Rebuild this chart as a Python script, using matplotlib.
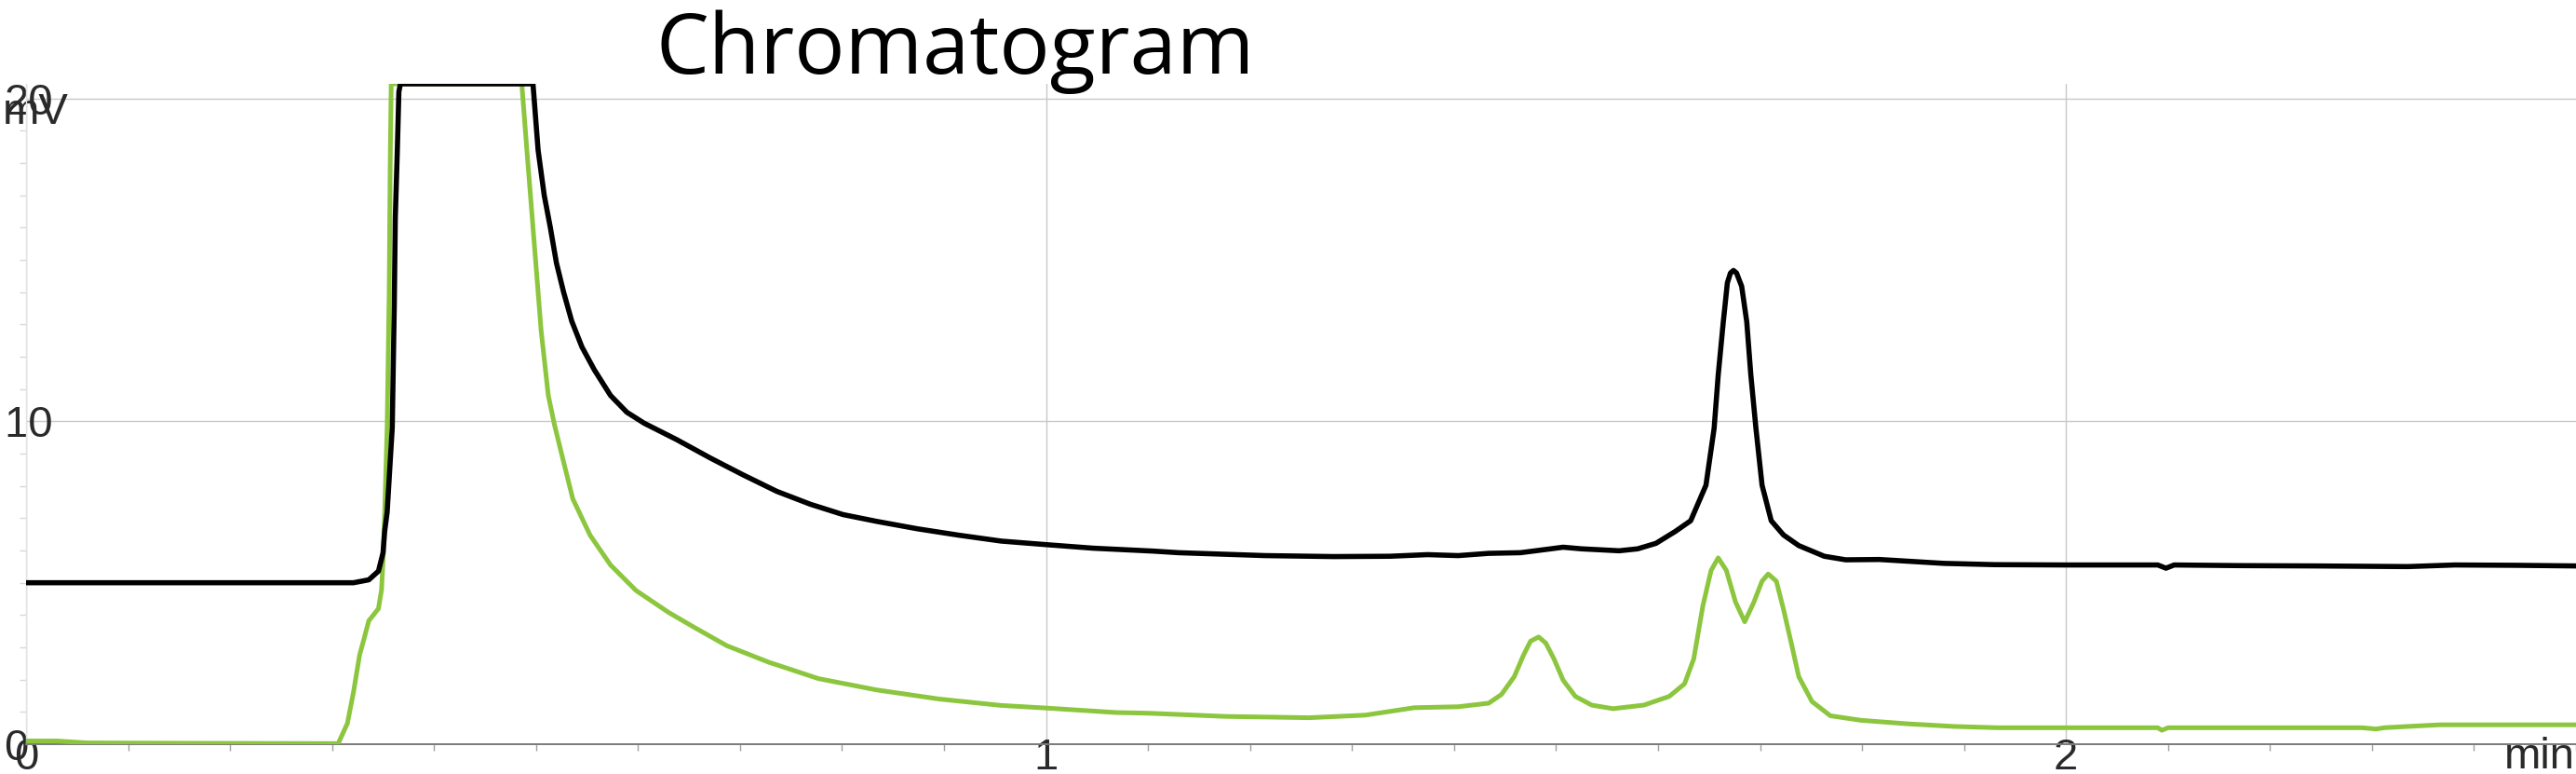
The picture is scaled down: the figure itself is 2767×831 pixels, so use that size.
import numpy as np
import matplotlib.pyplot as plt
from matplotlib.ticker import MultipleLocator

# trace 1 (black), time in min / signal in mV
black_t = [0.000, 0.100, 0.200, 0.300, 0.321, 0.336, 0.3455, 0.350, 0.3516, 0.354,
           0.359, 0.361, 0.362, 0.364, 0.3655, 0.367, 0.497, 0.502, 0.508, 0.514,
           0.520, 0.527, 0.535, 0.545, 0.557, 0.573, 0.589, 0.606, 0.638, 0.671,
           0.703, 0.736, 0.769, 0.801, 0.834, 0.874, 0.915, 0.956, 1.000, 1.046,
           1.105, 1.130, 1.215, 1.282, 1.337, 1.374, 1.404, 1.434, 1.465, 1.480,
           1.507, 1.525, 1.562, 1.580, 1.598, 1.617, 1.632, 1.647, 1.655, 1.659,
           1.664, 1.668, 1.671, 1.674, 1.677, 1.682, 1.687, 1.691, 1.696, 1.702,
           1.711, 1.723, 1.738, 1.763, 1.784, 1.817, 1.880, 1.930, 2.000, 2.090,
           2.098, 2.106, 2.170, 2.245, 2.335, 2.381, 2.440, 2.500]
black_mv = [5.00, 5.00, 5.00, 5.00, 5.00, 5.09, 5.36, 5.93, 6.60, 7.18,
            9.80, 13.6, 16.3, 18.4, 20.2, 20.45, 20.45, 18.4, 17.0, 16.0,
            14.9, 14.0, 13.1, 12.3, 11.6, 10.8, 10.28, 9.94, 9.43, 8.86,
            8.34, 7.83, 7.43, 7.11, 6.90, 6.67, 6.47, 6.29, 6.18, 6.07,
            5.98, 5.93, 5.84, 5.81, 5.82, 5.87, 5.84, 5.91, 5.93, 5.99,
            6.10, 6.05, 5.99, 6.05, 6.22, 6.59, 6.92, 8.02, 9.78, 11.43,
            13.08, 14.29, 14.59, 14.67, 14.59, 14.18, 13.08, 11.43, 9.78, 8.02,
            6.92, 6.48, 6.15, 5.82, 5.71, 5.72, 5.60, 5.56, 5.55, 5.55,
            5.45, 5.55, 5.53, 5.52, 5.50, 5.55, 5.54, 5.52]

# trace 2 (green)
green_t = [0.000, 0.030, 0.060, 0.150, 0.300, 0.306, 0.315, 0.321, 0.327, 0.332,
           0.336, 0.3455, 0.3485, 0.350, 0.3516, 0.354, 0.356, 0.357, 0.358, 0.486,
           0.491, 0.499, 0.505, 0.512, 0.518, 0.527, 0.536, 0.553, 0.573, 0.598,
           0.630, 0.655, 0.687, 0.728, 0.777, 0.834, 0.895, 0.956, 1.000, 1.069,
           1.100, 1.176, 1.258, 1.313, 1.361, 1.404, 1.434, 1.4465, 1.459, 1.468,
           1.475, 1.483, 1.490, 1.498, 1.507, 1.519, 1.535, 1.556, 1.586, 1.611,
           1.626, 1.635, 1.644, 1.652, 1.659, 1.667, 1.676, 1.685, 1.694, 1.702,
           1.708, 1.716, 1.723, 1.731, 1.738, 1.751, 1.769, 1.799, 1.845, 1.890,
           1.933, 2.090, 2.094, 2.100, 2.290, 2.304, 2.312, 2.335, 2.366, 2.500]
green_mv = [0.10, 0.10, 0.04, 0.03, 0.02, 0.02, 0.64, 1.61, 2.76, 3.34,
            3.82, 4.20, 4.78, 5.70, 7.18, 9.80, 14.0, 18.0, 20.45, 20.45,
            18.4, 15.2, 12.8, 10.8, 9.90, 8.74, 7.60, 6.47, 5.55, 4.76,
            4.08, 3.62, 3.05, 2.54, 2.03, 1.68, 1.40, 1.20, 1.12, 0.98,
            0.96, 0.86, 0.82, 0.90, 1.13, 1.16, 1.27, 1.54, 2.09, 2.75,
            3.19, 3.32, 3.13, 2.64, 1.98, 1.48, 1.21, 1.10, 1.21, 1.48,
            1.87, 2.64, 4.29, 5.38, 5.77, 5.38, 4.40, 3.79, 4.40, 5.05,
            5.27, 5.05, 4.18, 3.08, 2.09, 1.32, 0.88, 0.74, 0.63, 0.55,
            0.51, 0.51, 0.43, 0.51, 0.51, 0.47, 0.51, 0.55, 0.60, 0.60]

x_ticks = [0, 1, 2]
y_ticks = [0, 10, 20]

W, H = 2767, 831
fig = plt.figure(figsize=(W / 100, H / 100), dpi=100)
ax = fig.add_axes([28 / W, 1 - 799 / H, 1 - 28 / W, (799 - 90) / H])

ax.plot(green_t, green_mv, color='#8cc63f', lw=3.6, zorder=3, solid_joinstyle='round')
ax.plot(black_t, black_mv, color='black', lw=4.0, zorder=4, solid_joinstyle='round')

ax.set_xlim(0, 2.5)
ax.set_ylim(0, 20.45)
ax.set_xticks(x_ticks)
ax.set_yticks(y_ticks)
ax.xaxis.set_minor_locator(MultipleLocator(0.1))
ax.yaxis.set_minor_locator(MultipleLocator(1))
ax.grid(True, which='major', color='#c8c8c8', lw=1.0)

for s in ['top', 'right']:
    ax.spines[s].set_visible(False)
ax.spines['bottom'].set_color('#7a7a7a')
ax.spines['bottom'].set_linewidth(1.4)
ax.spines['left'].set_color('#e2e2e2')
ax.spines['left'].set_linewidth(1.0)

fs = 34
lab_font = dict(family='Liberation Sans', size=fs, color='#2a2a2a')
ax.tick_params(axis='x', which='major', length=0, pad=-5, labelsize=fs, labelcolor='#2a2a2a')
ax.tick_params(axis='y', which='major', length=0, pad=17, labelsize=fs, labelcolor='#2a2a2a')
ax.tick_params(axis='x', which='minor', length=5, width=1, color='#a0a0a0', direction='out')
ax.tick_params(axis='y', which='minor', length=5, width=1, color='#d8d8d8', direction='out')
ax.set_xticklabels([str(v) for v in x_ticks], family='Liberation Sans')
ax.set_yticklabels([str(v) for v in y_ticks], family='Liberation Sans', ha='left')

ax.set_xlabel('min', fontdict=lab_font, ha='right', va='baseline')
ax.xaxis.set_label_coords(0.9995, -0.037)
ax.set_ylabel('mV', fontdict=lab_font, rotation=0, ha='left', va='center')
ax.yaxis.set_label_coords(-0.0092, 0.956)

fig.text(1026 / W, 1 - 79 / H, 'Chromatogram', family='Open Sans', fontsize=65,
         ha='center', va='baseline', color='black')

fig.savefig('out.png', dpi=100)
